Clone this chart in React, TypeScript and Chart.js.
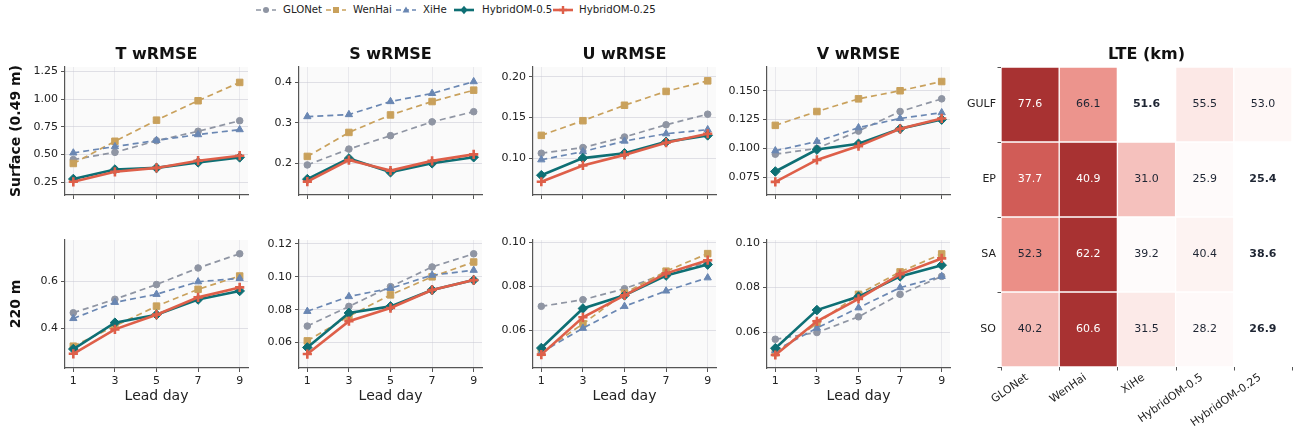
import React, { useEffect, useRef } from "react";
import { Chart, registerables } from "chart.js";

Chart.register(...registerables);
Chart.defaults.font.family = "'DejaVu Sans', 'Liberation Sans', sans-serif";

// ---------------- DATA ----------------
const leadDays = [1, 3, 5, 7, 9];
const modelNames = ["GLONet", "WenHai", "XiHe", "HybridOM-0.5", "HybridOM-0.25"];

// rows follow modelNames order
const tSurface = [
  [0.455, 0.52, 0.625, 0.71, 0.805],
  [0.42, 0.62, 0.81, 0.985, 1.15],
  [0.515, 0.572, 0.628, 0.68, 0.725],
  [0.28, 0.365, 0.38, 0.43, 0.475],
  [0.255, 0.345, 0.38, 0.445, 0.49],
];
const sSurface = [
  [0.196, 0.235, 0.268, 0.302, 0.327],
  [0.217, 0.276, 0.319, 0.352, 0.38],
  [0.315, 0.32, 0.352, 0.372, 0.401],
  [0.161, 0.212, 0.178, 0.2, 0.215],
  [0.155, 0.208, 0.182, 0.206, 0.222],
];
const uSurface = [
  [0.106, 0.113, 0.126, 0.141, 0.154],
  [0.128, 0.146, 0.165, 0.182, 0.195],
  [0.098, 0.108, 0.121, 0.13, 0.135],
  [0.079, 0.1, 0.106, 0.12, 0.128],
  [0.071, 0.091, 0.104, 0.119, 0.13],
];
const vSurface = [
  [0.095, 0.1, 0.115, 0.132, 0.143],
  [0.12, 0.132, 0.143, 0.15, 0.158],
  [0.098, 0.106, 0.118, 0.126, 0.131],
  [0.08, 0.099, 0.104, 0.117, 0.125],
  [0.071, 0.09, 0.102, 0.117, 0.126],
];
const t220 = [
  [0.466, 0.523, 0.585, 0.655, 0.715],
  [0.325, 0.41, 0.494, 0.565, 0.621],
  [0.442, 0.51, 0.544, 0.597, 0.611],
  [0.313, 0.424, 0.458, 0.522, 0.558],
  [0.293, 0.396, 0.458, 0.531, 0.573],
];
const s220 = [
  [0.07, 0.082, 0.094, 0.106, 0.114],
  [0.061, 0.076, 0.089, 0.1, 0.109],
  [0.079, 0.088, 0.093, 0.101, 0.104],
  [0.057, 0.078, 0.082, 0.092, 0.098],
  [0.053, 0.073, 0.081, 0.092, 0.098],
];
const u220 = [
  [0.071, 0.074, 0.079, 0.086, 0.091],
  [0.05, 0.063, 0.077, 0.087, 0.095],
  [0.05, 0.061, 0.071, 0.078, 0.084],
  [0.052, 0.07, 0.076, 0.085, 0.09],
  [0.049, 0.066, 0.076, 0.086, 0.092],
];
const v220 = [
  [0.057, 0.06, 0.067, 0.077, 0.085],
  [0.051, 0.064, 0.077, 0.087, 0.095],
  [0.052, 0.062, 0.071, 0.08, 0.085],
  [0.053, 0.07, 0.076, 0.085, 0.09],
  [0.05, 0.065, 0.075, 0.086, 0.093],
];

const tSurfaceTicks = [0.25, 0.5, 0.75, 1.0, 1.25];
const sSurfaceTicks = [0.2, 0.3, 0.4];
const uSurfaceTicks = [0.1, 0.15, 0.2];
const vSurfaceTicks = [0.075, 0.1, 0.125, 0.15];
const t220Ticks = [0.4, 0.6];
const s220Ticks = [0.06, 0.08, 0.1, 0.12];
const u220Ticks = [0.06, 0.08, 0.1];
const v220Ticks = [0.06, 0.08, 0.1];

const lteRegions = ["GULF", "EP", "SA", "SO"];
const lteGULF = [77.6, 66.1, 51.6, 55.5, 53.0];
const lteEP = [37.7, 40.9, 31.0, 25.9, 25.4];
const lteSA = [52.3, 62.2, 39.2, 40.4, 38.6];
const lteSO = [40.2, 60.6, 31.5, 28.2, 26.9];
const lteValues = [lteGULF, lteEP, lteSA, lteSO];

// ---------------- STYLE ----------------
const seriesColors = ["#8F95A3", "#C9A15C", "#6A87B3", "#0E6F74", "#DE5F49"];
const seriesPoint = ["circle", "rect", "triangle", "rectRot", "cross"];
const seriesRadius = [3.3, 4.6, 4.2, 4.8, 4.6];
const FONT = "'DejaVu Sans', 'Liberation Sans', sans-serif";

type PanelCfg = {
  title?: string;
  rowLabel?: string;
  series: number[][];
  yMin: number;
  yMax: number;
  yTicks: number[];
  dec: number;
  L: number;
  R: number;
  T: number;
  B: number;
  bottom: boolean;
};

const panels: PanelCfg[] = [
  { title: "T wRMSE", rowLabel: "Surface (0.49 m)", series: tSurface, yMin: 0.136, yMax: 1.289, yTicks: tSurfaceTicks, dec: 2, L: 65, R: 248, T: 67, B: 195, bottom: false },
  { title: "S wRMSE", series: sSurface, yMin: 0.122, yMax: 0.437, yTicks: sSurfaceTicks, dec: 1, L: 299, R: 482, T: 67, B: 195, bottom: false },
  { title: "U wRMSE", series: uSurface, yMin: 0.0547, yMax: 0.212, yTicks: uSurfaceTicks, dec: 2, L: 533, R: 716, T: 67, B: 195, bottom: false },
  { title: "V wRMSE", series: vSurface, yMin: 0.0596, yMax: 0.1706, yTicks: vSurfaceTicks, dec: 3, L: 767, R: 950, T: 67, B: 195, bottom: false },
  { rowLabel: "220 m", series: t220, yMin: 0.233, yMax: 0.773, yTicks: t220Ticks, dec: 1, L: 65, R: 248, T: 240, B: 368, bottom: true },
  { series: s220, yMin: 0.0445, yMax: 0.1224, yTicks: s220Ticks, dec: 2, L: 299, R: 482, T: 240, B: 368, bottom: true },
  { series: u220, yMin: 0.0429, yMax: 0.1012, yTicks: u220Ticks, dec: 2, L: 533, R: 716, T: 240, B: 368, bottom: true },
  { series: v220, yMin: 0.0442, yMax: 0.1012, yTicks: v220Ticks, dec: 2, L: 767, R: 950, T: 240, B: 368, bottom: true },
];

function LinePanel({ cfg }: { cfg: PanelCfg }) {
  const ref = useRef<HTMLCanvasElement>(null);
  const PADL = 60, PADT = 30, PADR = 8;
  const PADB = cfg.bottom ? 50 : 22;
  const w = cfg.R - cfg.L + PADL + PADR;
  const h = cfg.B - cfg.T + PADT + PADB;
  const left = cfg.L - PADL;

  useEffect(() => {
    const deco = {
      id: "panelDeco",
      beforeDraw(chart: any) {
        const { ctx, chartArea: a } = chart;
        ctx.save();
        ctx.fillStyle = "#FAFAFA";
        ctx.fillRect(a.left, a.top, a.right - a.left, a.bottom - a.top);
        ctx.restore();
      },
      afterDraw(chart: any) {
        const { ctx, chartArea: a } = chart;
        ctx.save();
        ctx.fillStyle = "#111";
        ctx.textAlign = "center";
        ctx.textBaseline = "middle";
        if (cfg.title) {
          ctx.font = `bold 16px ${FONT}`;
          ctx.fillText(cfg.title, (a.left + a.right) / 2, a.top - 12);
        }
        if (cfg.bottom) {
          ctx.font = `14px ${FONT}`;
          ctx.fillStyle = "#222";
          ctx.fillText("Lead day", (a.left + a.right) / 2, a.bottom + 28);
        }
        if (cfg.rowLabel) {
          ctx.fillStyle = "#111";
          ctx.font = `bold 14px ${FONT}`;
          ctx.translate(16 - left, (a.top + a.bottom) / 2);
          ctx.rotate(-Math.PI / 2);
          ctx.fillText(cfg.rowLabel, 0, 0);
        }
        ctx.restore();
      },
    };

    const chart = new Chart(ref.current!, {
      type: "line",
      data: {
        datasets: cfg.series.map((vals, i) => {
          const dashed = i < 3;
          return {
            label: modelNames[i],
            data: leadDays.map((d, k) => ({ x: d, y: vals[k] })),
            borderColor: seriesColors[i],
            backgroundColor: seriesColors[i],
            borderWidth: dashed ? 1.7 : 2.6,
            borderDash: dashed ? [6, 4] : [],
            pointStyle: seriesPoint[i] as any,
            pointRadius: seriesRadius[i],
            pointBorderWidth: i === 4 ? 2.6 : 1,
            pointBorderColor: seriesColors[i],
            pointBackgroundColor: seriesColors[i],
            tension: 0,
            order: 5 - i,
          };
        }),
      },
      options: {
        responsive: false,
        animation: false,
        devicePixelRatio: 1,
        layout: { padding: { top: PADT, right: PADR, left: 0, bottom: 0 } },
        plugins: { legend: { display: false }, tooltip: { enabled: false } },
        scales: {
          x: {
            type: "linear",
            min: 0.6,
            max: 9.4,
            afterBuildTicks: (s: any) => {
              s.ticks = leadDays.map((v) => ({ value: v }));
            },
            afterFit: (s: any) => {
              s.height = PADB;
            },
            ticks: {
              callback: (v: any) => (cfg.bottom ? String(v) : ""),
              font: { size: 11 },
              color: "#222",
              padding: 3,
              maxRotation: 0,
              autoSkip: false,
            },
            grid: { color: "rgba(200,200,212,0.35)", tickColor: "#555", tickLength: 4, lineWidth: 1 },
            border: { color: "#555", width: 1.2 },
          },
          y: {
            type: "linear",
            min: cfg.yMin,
            max: cfg.yMax,
            afterBuildTicks: (s: any) => {
              s.ticks = cfg.yTicks.map((v) => ({ value: v }));
            },
            afterFit: (s: any) => {
              s.width = PADL;
            },
            ticks: {
              callback: (v: any) => Number(v).toFixed(cfg.dec),
              font: { size: 11 },
              color: "#222",
              padding: 3,
              autoSkip: false,
            },
            grid: { color: "rgba(200,200,212,0.55)", tickColor: "#555", tickLength: 4, lineWidth: 1 },
            border: { color: "#555", width: 1.2 },
          },
        },
      } as any,
      plugins: [deco],
    });
    return () => chart.destroy();
  }, []);

  return (
    <canvas
      ref={ref}
      width={w}
      height={h}
      style={{ position: "absolute", left, top: cfg.T - PADT, width: w, height: h }}
    />
  );
}

function lteColor(t: number): string {
  const stops: [number, number[]][] = [
    [0, [255, 255, 255]],
    [0.15, [252, 232, 230]],
    [0.4, [244, 186, 181]],
    [0.6, [234, 138, 130]],
    [0.8, [208, 90, 86]],
    [1, [168, 50, 50]],
  ];
  for (let i = 1; i < stops.length; i++) {
    if (t <= stops[i][0]) {
      const [t0, c0] = stops[i - 1];
      const [t1, c1] = stops[i];
      const f = (t - t0) / (t1 - t0);
      const c = c0.map((v, k) => Math.round(v + (c1[k] - v) * f));
      return `rgb(${c[0]},${c[1]},${c[2]})`;
    }
  }
  return "rgb(168,50,50)";
}

function Heatmap() {
  const ref = useRef<HTMLCanvasElement>(null);
  const CL = 940, CT = 40, W = 354, H = 394;
  useEffect(() => {
    const deco = {
      id: "heatDeco",
      afterDatasetsDraw(chart: any) {
        const { ctx, chartArea: a } = chart;
        const ys = chart.scales.y;
        const xs = chart.scales.x;
        ctx.save();
        ctx.textAlign = "center";
        ctx.textBaseline = "middle";
        lteValues.forEach((vals, r) => {
          const mn = Math.min(...vals);
          const mx = Math.max(...vals);
          const meta = chart.getDatasetMeta(r);
          meta.data.forEach((el: any, c: number) => {
            const v = vals[c];
            const t = (v - mn) / (mx - mn);
            ctx.font = `${v === mn ? "bold " : ""}11px ${FONT}`;
            ctx.fillStyle = t > 0.7 ? "#ffffff" : "#1e2533";
            ctx.fillText(v.toFixed(1), el.x, (el.y + el.base) / 2);
          });
        });
        // row labels
        ctx.font = `11px ${FONT}`;
        ctx.fillStyle = "#222";
        ctx.textAlign = "right";
        lteRegions.forEach((name, r) => {
          ctx.fillText(name, a.left - 5, ys.getPixelForValue(r + 0.5));
        });
        // ticks
        ctx.strokeStyle = "#555";
        ctx.lineWidth = 1;
        for (let r = 0; r <= 4; r++) {
          const y = Math.round(ys.getPixelForValue(r)) + 0.5;
          ctx.beginPath();
          ctx.moveTo(a.left - 3.5, y);
          ctx.lineTo(a.left, y);
          ctx.stroke();
        }
        const cw = (a.right - a.left) / 5;
        for (let c = 0; c <= 5; c++) {
          const x = Math.round(a.left + c * cw) + 0.5;
          ctx.beginPath();
          ctx.moveTo(x, a.bottom);
          ctx.lineTo(x, a.bottom + 3.5);
          ctx.stroke();
        }
        // column labels
        const ang = (35 * Math.PI) / 180;
        modelNames.forEach((m, c) => {
          const cx = xs.getPixelForValue(c);
          ctx.save();
          ctx.translate(cx - 6, a.bottom + 5);
          ctx.rotate(-ang);
          ctx.textAlign = "right";
          ctx.textBaseline = "top";
          ctx.fillStyle = "#222";
          ctx.font = `11px ${FONT}`;
          ctx.fillText(m, 0, 0);
          ctx.restore();
        });
        // title
        ctx.textAlign = "center";
        ctx.textBaseline = "middle";
        ctx.fillStyle = "#111";
        ctx.font = `bold 16px ${FONT}`;
        ctx.fillText("LTE (km)", (a.left + a.right) / 2, 15);
        ctx.restore();
      },
    };
    const chart = new Chart(ref.current!, {
      type: "bar",
      data: {
        labels: modelNames,
        datasets: lteValues.map((vals, r) => {
          const mn = Math.min(...vals);
          const mx = Math.max(...vals);
          return {
            label: lteRegions[r],
            data: vals.map(() => [r, r + 1]),
            backgroundColor: vals.map((v) => lteColor((v - mn) / (mx - mn))),
            borderColor: "#ffffff",
            borderWidth: 1,
            borderSkipped: false,
            barPercentage: 1,
            categoryPercentage: 1,
            grouped: false,
          };
        }),
      } as any,
      options: {
        responsive: false,
        animation: false,
        devicePixelRatio: 1,
        layout: { padding: { left: 61, top: 27, right: 2, bottom: 67 } },
        plugins: { legend: { display: false }, tooltip: { enabled: false } },
        scales: {
          x: { type: "category", display: false, offset: true },
          y: { type: "linear", display: false, min: 0, max: 4, reverse: true },
        },
      } as any,
      plugins: [deco],
    });
    return () => chart.destroy();
  }, []);
  return (
    <canvas
      ref={ref}
      width={W}
      height={H}
      style={{ position: "absolute", left: CL, top: CT, width: W, height: H }}
    />
  );
}

function Marker({ i }: { i: number }) {
  const c = seriesColors[i];
  const cx = 10, cy = 10;
  if (i === 0) return <circle cx={cx} cy={cy} r={3} fill={c} />;
  if (i === 1) return <rect x={cx - 3} y={cy - 3} width={6} height={6} fill={c} />;
  if (i === 2) return <polygon points={`${cx},${cy - 3.6} ${cx + 3.4},${cy + 2.6} ${cx - 3.4},${cy + 2.6}`} fill={c} />;
  if (i === 3) return <polygon points={`${cx},${cy - 4.2} ${cx + 3.6},${cy} ${cx},${cy + 4.2} ${cx - 3.6},${cy}`} fill={c} />;
  return (
    <g stroke={c} strokeWidth={2.4}>
      <line x1={cx - 4} y1={cy} x2={cx + 4} y2={cy} />
      <line x1={cx} y1={cy - 4} x2={cx} y2={cy + 4} />
    </g>
  );
}

function Legend() {
  const sampleX = [256, 326, 396, 454, 553];
  const textX = [283, 353, 423, 482, 579];
  return (
    <>
      {modelNames.map((m, i) => (
        <React.Fragment key={m}>
          <svg
            width={20}
            height={20}
            style={{ position: "absolute", left: sampleX[i], top: 0 }}
          >
            <line
              x1={0}
              y1={10}
              x2={20}
              y2={10}
              stroke={seriesColors[i]}
              strokeWidth={i < 3 ? 1.7 : 2.6}
              strokeDasharray={i < 3 ? "5 3" : undefined}
            />
            <Marker i={i} />
          </svg>
          <div
            style={{
              position: "absolute",
              left: textX[i],
              top: 10,
              transform: "translateY(-50%)",
              fontFamily: FONT,
              fontSize: 10.2,
              color: "#222",
              whiteSpace: "nowrap",
              lineHeight: 1,
            }}
          >
            {m}
          </div>
        </React.Fragment>
      ))}
    </>
  );
}

export default function App() {
  return (
    <div
      style={{
        position: "fixed",
        left: 0,
        top: 0,
        width: 1294,
        height: 434,
        background: "#ffffff",
        overflow: "hidden",
      }}
    >
      <Legend />
      {panels.map((p, i) => (
        <LinePanel key={i} cfg={p} />
      ))}
      <Heatmap />
    </div>
  );
}
